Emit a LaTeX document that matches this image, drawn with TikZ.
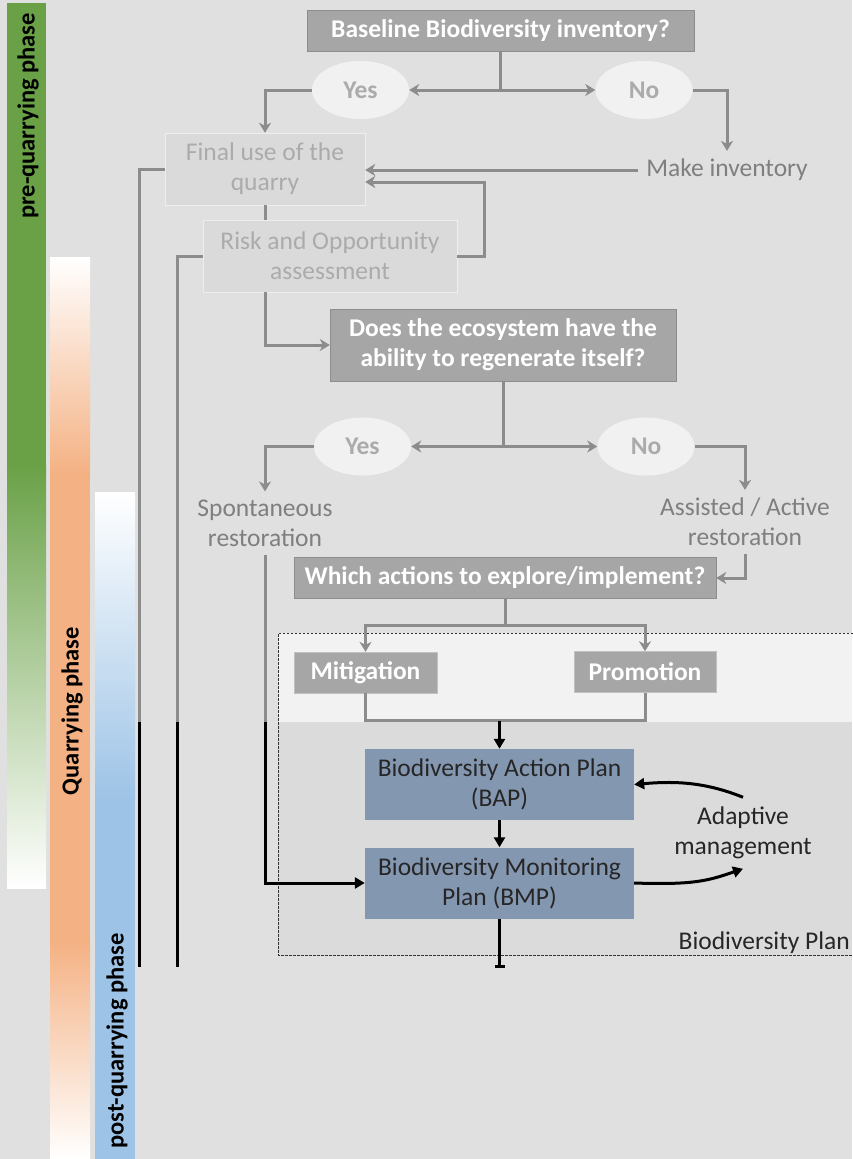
\documentclass[tikz,border=0pt]{standalone}
\usepackage{fontspec}
\setmainfont{Carlito}
\usetikzlibrary{arrows.meta,calc,positioning,shapes.geometric}

\definecolor{bggray}{HTML}{E0E0E0}
\definecolor{boxgray}{HTML}{A6A6A6}
\definecolor{linegray}{HTML}{8C8C8C}
\definecolor{fadetext}{HTML}{ABABAB}
\definecolor{fadebox}{HTML}{DADADA}
\definecolor{softtext}{HTML}{7F7F7F}
\definecolor{planblue}{HTML}{8497B0}
\definecolor{plangray}{HTML}{DBDBDB}
\definecolor{bandgray}{HTML}{F2F2F2}
\definecolor{phasegreen}{HTML}{6AA147}
\definecolor{phaseorange}{HTML}{F4B183}
\definecolor{phaseblue}{HTML}{9DC3E6}

\begin{document}
\begin{tikzpicture}[
    x=1pt, y=-1pt,
    every node/.style={
        font=\fontsize{25.5}{30}\selectfont,
        align=center,
        inner sep=0pt
    },
    question/.style={
        rectangle,
        draw=boxgray!85!black,
        fill=boxgray,
        text=white,
        font=\fontsize{25.5}{30}\selectfont\bfseries
    },
    faded/.style={rectangle, draw=white!45!bggray, fill=fadebox, text=fadetext},
    answer/.style={
        ellipse,
        fill=white!55!bggray,
        text=fadetext,
        font=\fontsize{25.5}{30}\selectfont\bfseries,
        minimum width=97, minimum height=58
    },
    outcome/.style={text=softtext, inner sep=8pt},
    plan/.style={rectangle, fill=planblue, text=black!85,
        minimum width=269, minimum height=71},
    phase/.style={rotate=90, font=\fontsize{24.5}{28}\selectfont\bfseries},
    link/.style={draw=linegray, line width=3pt},
    linkarrow/.style={link, -{Stealth[length=10pt,width=12pt,inset=3pt]}},
    flow/.style={draw=black, line width=3pt},
    flowarrow/.style={flow, -{Triangle[length=10pt,width=11pt]}}
]
% page and phase bars
\fill[bggray] (0,0) rectangle (852,1159);
\useasboundingbox (0,0) rectangle (852,1159);

\fill[phasegreen] (7,3) rectangle (46,465);
\shade[top color=phasegreen, bottom color=white] (7,465) rectangle (46,888);
\shade[top color=white, bottom color=phaseorange] (50,257) rectangle (90,475);
\fill[phaseorange] (50,475) rectangle (90,940);
\shade[top color=phaseorange, bottom color=white] (50,940) rectangle (90,1159);
\shade[top color=white, bottom color=phaseblue] (95,492) rectangle (135,800);
\fill[phaseblue] (95,800) rectangle (135,1159);

\node[phase] (pre) at (28,116) {pre-quarrying phase};
\node[phase] (during) at (72,711) {Quarrying phase};
\node[phase] (post) at (117,1041) {post-quarrying phase};

% biodiversity plan area
\fill[bandgray] (278,633) rectangle (852,722);
\fill[plangray] (278,722) rectangle (852,955);
\draw[black!80, line width=0.8pt, dash pattern=on 2.5pt off 1.5pt]
    (853,633) -- (278,633) -- (278,955) -- (853,955);

% boxes
\node[question, minimum width=387, minimum height=41] (baseline) at (500.5,30.5) {Baseline Biodiversity inventory?};
\node[answer] (yes1) at (360.5,90) {Yes};
\node[answer] (no1) at (644,90) {No};
\node[faded, minimum width=200, minimum height=72] (finaluse) at (265,169) {Final use of the\\quarry};
\node[outcome] (inventory) at (727,170) {Make inventory};
\node[faded, minimum width=254, minimum height=72] (risk) at (330,256) {Risk and Opportunity\\assessment};
\node[question, minimum width=346, minimum height=72] (regen) at (503,345) {Does the ecosystem have the\\ability to regenerate itself?};
\node[answer] (yes2) at (362.5,446.5) {Yes};
\node[answer] (no2) at (646,446.5) {No};
\node[outcome] (spont) at (265,523) {Spontaneous\\restoration};
\node[outcome] (assisted) at (745,522) {Assisted / Active\\restoration};
\node[question, minimum width=422, minimum height=41] (actions) at (505,578) {Which actions to explore/implement?};
\node[question, draw=boxgray!70!white, minimum width=143, minimum height=41] (mitig) at (365.5,672.5) {Mitigation};
\node[question, draw=boxgray!70!white, minimum width=142, minimum height=41] (promo) at (645,672) {Promotion};
\node[plan] (bap) at (499.5,784.5) {Biodiversity Action Plan\\(BAP)};
\node[plan] (bmp) at (499.5,883) {Biodiversity Monitoring\\Plan (BMP)};
\node[inner sep=9.5pt, text=black!85] (adaptive) at (743,833) {Adaptive\\management};
\node[anchor=south east, text=black!85] (planlabel) at (850,954) {Biodiversity Plan};

% junctions and loose ends
\coordinate (fork1) at (baseline.south |- yes1);
\coordinate (fork2) at (regen.south |- yes2);
\coordinate (fork3) at ($(actions.south)+(0,27)$);
\coordinate (join) at ($(bap.north)+(0,-28)$);
\coordinate (planend) at ($(bmp.south)+(0,49)$);
\coordinate (lane1) at (139,722);
\coordinate (lane2) at (177,722);
\coordinate (lane3) at (spont.south |- lane1);
\coordinate (lane1end) at (139,967);
\coordinate (lane2end) at (177,967);

% gray decision flow
\draw[link] (baseline) -- (fork1);
\draw[linkarrow] (fork1) -- (yes1);
\draw[linkarrow] (fork1) -- (no1);
\draw[linkarrow] (yes1) -| (finaluse);
\draw[linkarrow] (no1) -| (inventory);
\draw[linkarrow] (inventory.west) -- (inventory.west -| finaluse.east);
\draw[link] (finaluse) -- (finaluse |- risk.north);
\draw[linkarrow] (risk.east) -- ++(27,0) |- ([yshift=-13pt]finaluse.east);
\draw[linkarrow] (finaluse |- risk.south) |- (regen);
\draw[link] (regen) -- (fork2);
\draw[linkarrow] (fork2) -- (yes2);
\draw[linkarrow] (fork2) -- (no2);
\draw[linkarrow] (yes2) -| (spont);
\draw[linkarrow] (no2) -| (assisted);
\draw[linkarrow] (assisted) |- (actions);
\draw[link] (actions) -- (fork3);
\draw[linkarrow] (fork3) -| (mitig);
\draw[linkarrow] (fork3) -| (promo);
\draw[link] (mitig) |- (join) -| (promo);

% phase lanes
\draw[link] (finaluse) -| (lane1);
\draw[flow] (lane1) -- (lane1end);
\draw[link] (risk) -| (lane2);
\draw[flow] (lane2) -- (lane2end);
\draw[link] (spont) -- (lane3);
\draw[flowarrow] (lane3) |- (bmp);

% plan
\draw[flowarrow] (join) -- (bap);
\draw[flowarrow] (bap) -- (bmp);
\draw[flow, -{Bar[width=10pt]}] (bmp) -- (planend);
\draw[flowarrow] (adaptive.north) .. controls +(-35,-14) and +(45,-4) .. (bap.east);
\draw[flowarrow] (bmp.east) .. controls +(60,2) and +(-35,12) .. (adaptive.south);
\end{tikzpicture}
\end{document}
